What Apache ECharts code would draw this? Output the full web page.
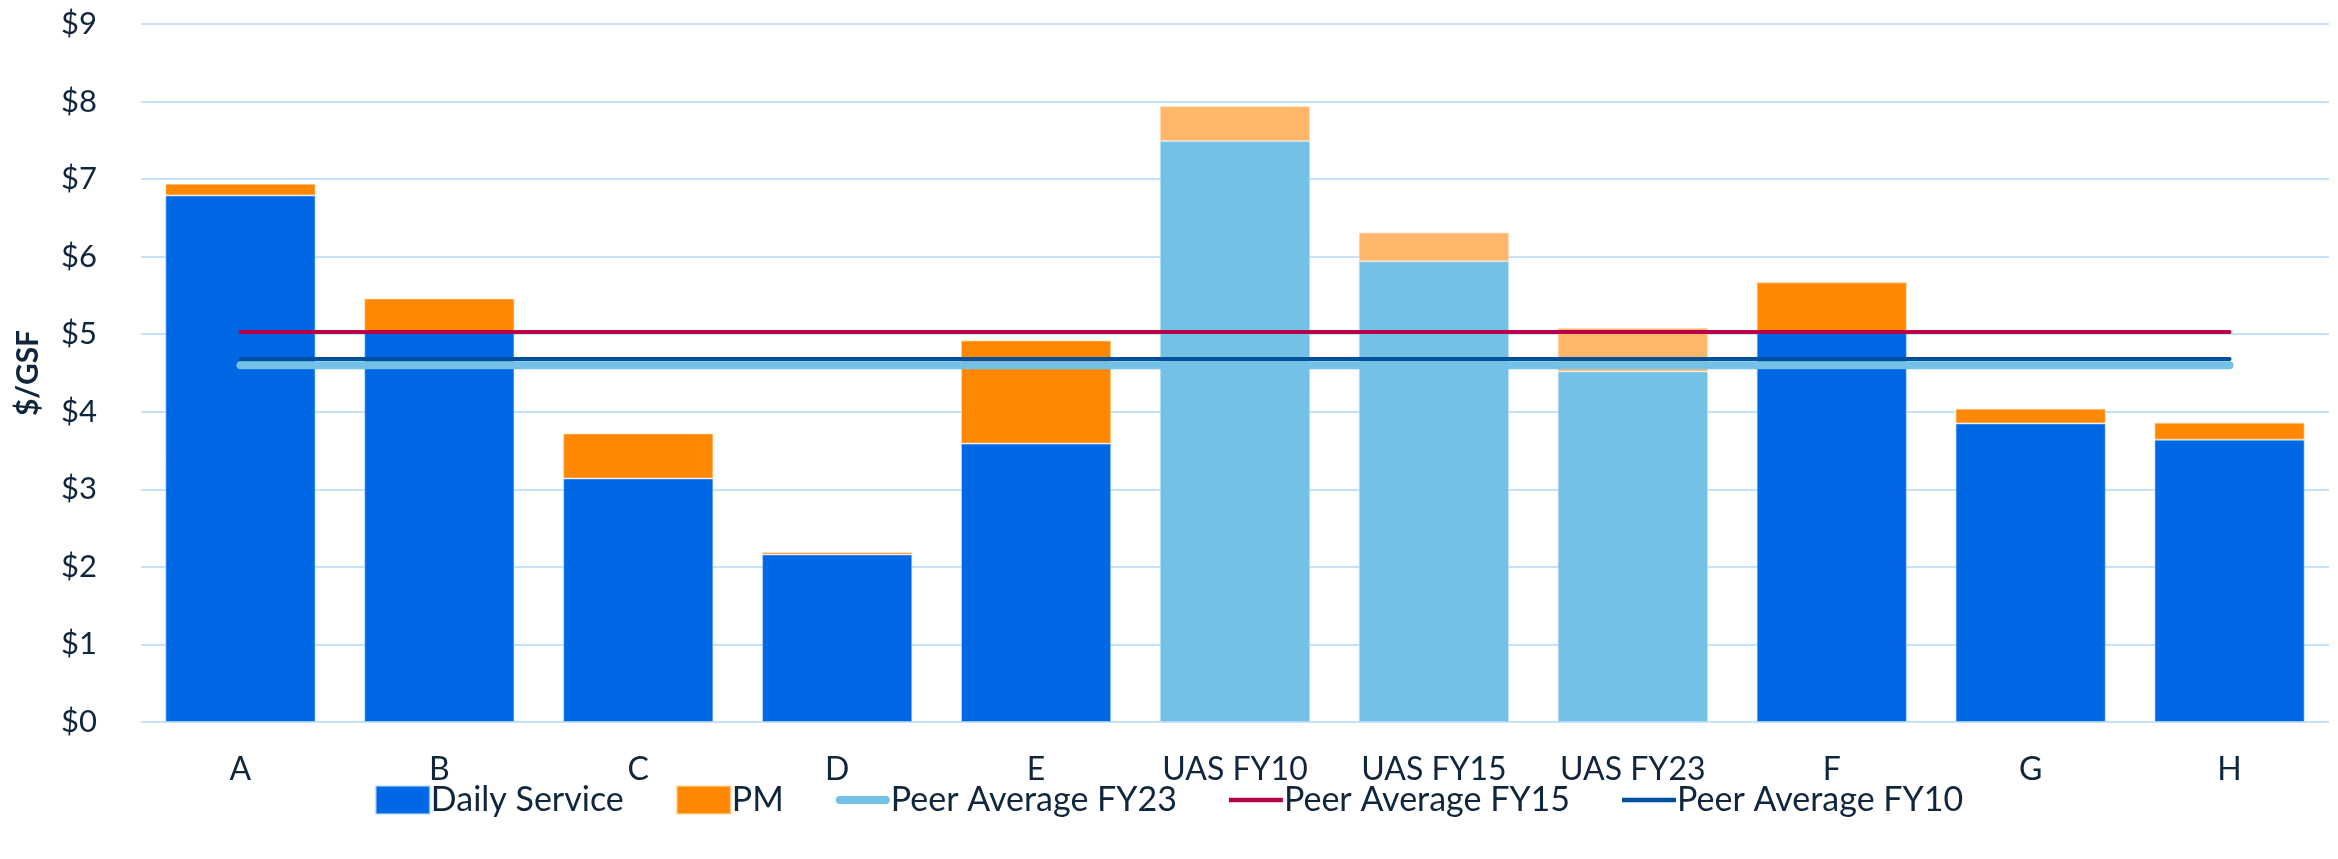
<!DOCTYPE html>
<html>
<head>
<meta charset="utf-8">
<title>Custodial cost per GSF</title>
<script src="https://cdn.jsdelivr.net/npm/echarts@6/dist/echarts.min.js"></script>
<style>
  html, body { margin: 0; padding: 0; background: #ffffff; }
  #chart { width: 2338px; height: 859px; }
</style>
</head>
<body>
<div id="chart"></div>
<script>
// Institutions compared (UAS years are shown in lighter shades)
const categories = ['A', 'B', 'C', 'D', 'E', 'UAS FY10', 'UAS FY15', 'UAS FY23', 'F', 'G', 'H'];
const highlighted = ['UAS FY10', 'UAS FY15', 'UAS FY23'];

// Cost components, $ per gross square foot
const dailyService = [6.79, 5.04, 3.14, 2.16, 3.59, 7.49, 5.94, 4.52, 5.04, 3.85, 3.64];
const pm           = [0.15, 0.42, 0.58, 0.03, 1.33, 0.45, 0.37, 0.56, 0.63, 0.19, 0.22];

// Peer averages drawn across the category range
const peerAvgFY23 = [4.60, 4.60, 4.60, 4.60, 4.60, 4.60, 4.60, 4.60, 4.60, 4.60, 4.60];
const peerAvgFY15 = [5.03, 5.03, 5.03, 5.03, 5.03, 5.03, 5.03, 5.03, 5.03, 5.03, 5.03];
const peerAvgFY10 = [4.68, 4.68, 4.68, 4.68, 4.68, 4.68, 4.68, 4.68, 4.68, 4.68, 4.68];

const yTicks = { min: 0, max: 9, interval: 1 };

const FONT = 'Lato';
const TEXT = '#10263d';
const DAILY = '#0068e5', DAILY_LIGHT = '#74c1e8';
const PMC = '#ff8800', PM_LIGHT = '#ffb66b';
const AVG23 = '#74c1e8', AVG15 = '#b8004a', AVG10 = '#00509c';

const isHi = (i) => highlighted.indexOf(categories[i]) >= 0;

const chart = echarts.init(document.getElementById('chart'), null, { renderer: 'canvas' });

chart.setOption({
  animation: false,
  backgroundColor: '#ffffff',
  textStyle: { fontFamily: FONT, color: TEXT },
  grid: { left: 141, right: 9, top: 24, bottom: 137, containLabel: false },
  legend: {
    bottom: 37,
    left: 'center',
    itemWidth: 54,
    itemHeight: 28,
    itemGap: 52,
    textStyle: { fontFamily: FONT, fontSize: 34, color: TEXT, padding: [0, 0, 0, -4] },
    data: [
      { name: 'Daily Service', icon: 'rect', itemStyle: { color: DAILY } },
      { name: 'PM', icon: 'rect', itemStyle: { color: PMC } },
      { name: 'Peer Average FY23', icon: 'path://M4,10 L50,10 A4,4 0 0 1 50,18 L4,18 A4,4 0 0 1 4,10 Z', itemStyle: { color: AVG23 } },
      { name: 'Peer Average FY15', icon: 'path://M4,12 L50,12 L50,16 L4,16 Z', itemStyle: { color: AVG15 } },
      { name: 'Peer Average FY10', icon: 'path://M4,12 L50,12 L50,16 L4,16 Z', itemStyle: { color: AVG10 } }
    ]
  },
  xAxis: {
    type: 'category',
    data: categories,
    boundaryGap: true,
    axisLine: { show: false },
    axisTick: { show: false },
    axisLabel: { fontFamily: FONT, fontSize: 32, color: TEXT, margin: 32 }
  },
  yAxis: {
    type: 'value',
    min: yTicks.min,
    max: yTicks.max,
    interval: yTicks.interval,
    name: '$/GSF',
    nameLocation: 'middle',
    nameGap: 98,
    nameTextStyle: { fontFamily: FONT, fontSize: 30, fontWeight: 'bold', color: TEXT },
    axisLine: { show: false },
    axisTick: { show: false },
    axisLabel: { fontFamily: FONT, fontSize: 31, color: TEXT, margin: 44, formatter: (v) => '$' + v },
    splitLine: { lineStyle: { color: '#c4e2f9', width: 2 } }
  },
  series: [
    {
      name: 'Daily Service',
      type: 'bar',
      stack: 'cost',
      barWidth: '75.5%',
      data: dailyService,
      itemStyle: {
        color: (p) => (isHi(p.dataIndex) ? DAILY_LIGHT : DAILY),
        borderColor: 'rgba(190,220,250,0.6)',
        borderWidth: 1
      },
      z: 2
    },
    {
      name: 'PM',
      type: 'bar',
      stack: 'cost',
      data: pm,
      itemStyle: {
        color: (p) => (isHi(p.dataIndex) ? PM_LIGHT : PMC),
        borderColor: 'rgba(255,220,180,0.6)',
        borderWidth: 1
      },
      z: 2
    },
    {
      name: 'Peer Average FY23',
      type: 'line',
      data: peerAvgFY23,
      symbol: 'none',
      color: AVG23,
      lineStyle: { color: AVG23, width: 8, cap: 'round' },
      z: 3
    },
    {
      name: 'Peer Average FY15',
      type: 'line',
      data: peerAvgFY15,
      symbol: 'none',
      color: AVG15,
      lineStyle: { color: AVG15, width: 4, cap: 'round' },
      z: 4
    },
    {
      name: 'Peer Average FY10',
      type: 'line',
      data: peerAvgFY10,
      symbol: 'none',
      color: AVG10,
      lineStyle: { color: AVG10, width: 4, cap: 'round' },
      z: 4
    }
  ]
});
</script>
</body>
</html>
